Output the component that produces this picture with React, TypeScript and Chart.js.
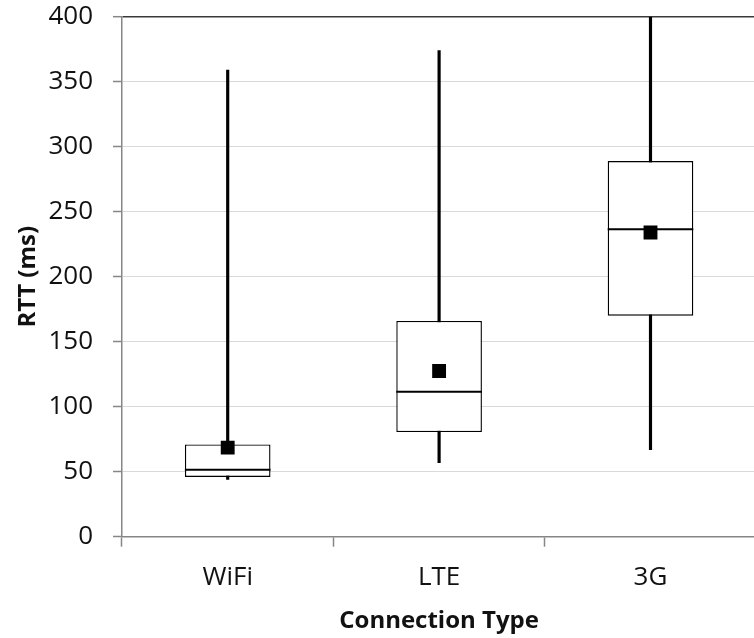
import React, { useEffect, useRef } from 'react';
import { Chart, registerables } from 'chart.js';

Chart.register(...registerables);

const categories = ['WiFi', 'LTE', '3G'];
const whiskerMin = [44, 57, 67];
const whiskerMax = [359, 374, 400];
const q1Values = [46, 80.5, 170];
const q3Values = [71, 166, 289];
const medianValues = [51.5, 111.5, 236.5];
const meanValues = [68.5, 127.5, 234];
const yMin = 0;
const yMax = 400;
const yStep = 50;
const xTitle = 'Connection Type';
const yTitle = 'RTT (ms)';

const FONT = '"Open Sans", "DejaVu Sans", sans-serif';
const AXIS_GREY = '#868686';

const medianPlugin = {
  id: 'medianLines',
  afterDatasetDraw(chart: any, args: any) {
    if (args.index !== 1) return;
    const meta = chart.getDatasetMeta(1);
    const yScale = chart.scales.y;
    const ctx = chart.ctx;
    ctx.save();
    ctx.strokeStyle = '#000';
    ctx.lineWidth = 2;
    meta.data.forEach((bar: any, i: number) => {
      const py = yScale.getPixelForValue(medianValues[i]);
      ctx.beginPath();
      ctx.moveTo(bar.x - bar.width / 2, py);
      ctx.lineTo(bar.x + bar.width / 2, py);
      ctx.stroke();
    });
    ctx.restore();
  },
};

export default function App() {
  const canvasRef = useRef<HTMLCanvasElement | null>(null);

  useEffect(() => {
    if (!canvasRef.current) return;
    const chart = new Chart(canvasRef.current, {
      type: 'bar',
      data: {
        labels: categories,
        datasets: [
          {
            type: 'line',
            label: 'Mean',
            data: meanValues,
            showLine: false,
            pointStyle: 'rect',
            pointRadius: 9.8,
            pointBackgroundColor: '#000',
            pointBorderColor: '#000',
            pointBorderWidth: 0,
          } as any,
          {
            type: 'bar',
            label: 'Box',
            data: categories.map((_, i) => [q1Values[i], q3Values[i]]),
            backgroundColor: '#fff',
            borderColor: '#000',
            borderWidth: 1.4,
            borderSkipped: false,
            grouped: false,
            categoryPercentage: 1,
            barPercentage: 0.405,
          } as any,
          {
            type: 'bar',
            label: 'Whisker',
            data: categories.map((_, i) => [whiskerMin[i], whiskerMax[i]]),
            backgroundColor: '#000',
            borderWidth: 0,
            grouped: false,
            barThickness: 2.5,
          } as any,
        ],
      },
      options: {
        responsive: false,
        animation: false,
        layout: { padding: { top: 16.7, right: 6.5, bottom: 0, left: 0 } },
        plugins: {
          legend: { display: false },
          tooltip: { enabled: false },
        },
        scales: {
          x: {
            type: 'category',
            offset: true,
            afterFit: (scale: any) => {
              scale.height = 101.3;
              scale.paddingLeft = 0;
              scale.paddingRight = 0;
            },
            grid: {
              offset: true,
              drawOnChartArea: false,
              drawTicks: true,
              tickLength: 10,
              tickColor: AXIS_GREY,
              tickWidth: 1.5,
            },
            border: { display: true, color: AXIS_GREY, width: 1.5 },
            ticks: {
              color: '#111',
              font: { family: FONT, size: 26 },
              padding: 15.3,
            },
            title: {
              display: true,
              text: xTitle,
              color: '#111',
              font: { family: FONT, size: 24, weight: 'bold' },
              padding: { top: 0, bottom: 2.7 },
            },
          },
          y: {
            min: yMin,
            max: yMax,
            afterFit: (scale: any) => {
              scale.width = 122;
              scale.paddingTop = 0;
              scale.paddingBottom = 0;
            },
            ticks: {
              stepSize: yStep,
              color: '#111',
              font: { family: FONT, size: 26 },
              padding: 20,
            },
            grid: {
              color: (ctx: any) => (ctx.tick && ctx.tick.value === yMax ? '#3a3a3a' : '#d9d9d9'),
              lineWidth: (ctx: any) => (ctx.tick && ctx.tick.value === yMax ? 1.4 : 1),
              drawTicks: true,
              tickLength: 9,
              tickColor: AXIS_GREY,
              tickWidth: 1.5,
            },
            border: { display: true, color: AXIS_GREY, width: 1.5 },
            title: {
              display: true,
              text: yTitle,
              color: '#111',
              font: { family: FONT, size: 24, weight: 'bold' },
              padding: { top: 13.8, bottom: 0 },
            },
          },
        },
      } as any,
      plugins: [medianPlugin],
    });
    return () => chart.destroy();
  }, []);

  return (
    <div
      style={{
        position: 'absolute',
        left: 0,
        top: 0,
        width: 754,
        height: 638,
        overflow: 'hidden',
        background: '#fff',
      }}
    >
      <canvas ref={canvasRef} width={766} height={638} style={{ display: 'block', width: 766, height: 638 }} />
    </div>
  );
}
